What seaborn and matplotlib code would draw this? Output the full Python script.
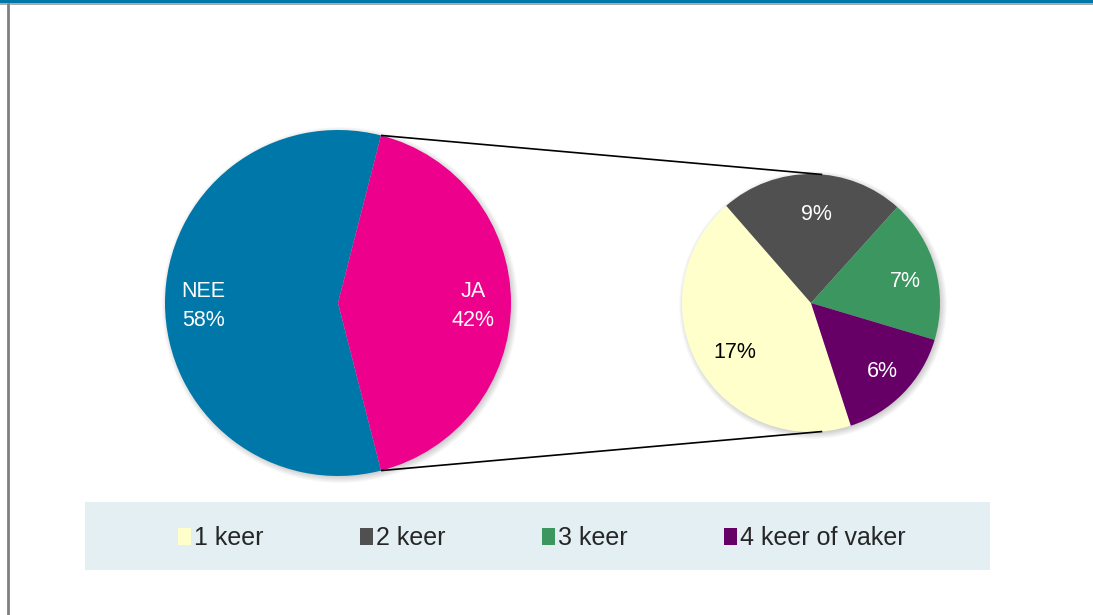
import matplotlib
matplotlib.use("Agg")
import matplotlib.pyplot as plt
import seaborn as sns
import numpy as np
from matplotlib.patches import Rectangle, Circle, Patch

# ---------------- data ----------------
main_labels = ["NEE", "JA"]
main_values = [58, 42]
sub_labels = ["1 keer", "2 keer", "3 keer", "4 keer of vaker"]
sub_values = [17, 9, 7, 6]

# ---------------- style ----------------
sns.set_theme(style="white")
plt.rcParams['font.family'] = ['Liberation Sans', 'DejaVu Sans']

main_colors = sns.color_palette(["#0077A9", "#EC008C"])
sub_colors = sns.color_palette(["#FFFFCC", "#505050", "#3C9660", "#660066"])
sub_text_colors = ["black", "white", "white", "white"]

W, H = 1093, 615
fig = plt.figure(figsize=(W / 100, H / 100), dpi=100)
fig.patch.set_facecolor("white")
ax = fig.add_axes([0, 0, 1, 1])


def py(y):
    return H - y


main_c = (338, py(303))
main_r = 173
sub_c = (811, py(303))
sub_r = 129

# soft shadows (halo, slightly offset to lower right)
for c, r in [(main_c, main_r), (sub_c, sub_r)]:
    for i in range(10):
        ax.add_patch(Circle((c[0] + 2, c[1] - 2), r + 5 - i * 0.9,
                            color="black", alpha=0.025, lw=0, zorder=1))

# main pie: JA centred on the right side
ja_frac = main_values[1] / sum(main_values)
wedges_m, _ = ax.pie(main_values, colors=main_colors, startangle=180 * ja_frac,
                     center=main_c, radius=main_r, labeldistance=None,
                     wedgeprops=dict(linewidth=0, zorder=2), frame=True)
for w, lab, v in zip(wedges_m, main_labels, main_values):
    mid = np.deg2rad((w.theta1 + w.theta2) / 2)
    x = main_c[0] + 0.78 * main_r * np.cos(mid)
    y = main_c[1] + 0.78 * main_r * np.sin(mid) - 3
    ax.text(x, y, f"{lab}\n{v}%", ha="center", va="center", color="white",
            fontsize=15.5, linespacing=1.5, zorder=5)

# secondary pie
wedges_s, _ = ax.pie(sub_values, colors=sub_colors, startangle=-72,
                     counterclock=False, center=sub_c, radius=sub_r,
                     labeldistance=None, wedgeprops=dict(linewidth=0, zorder=2),
                     frame=True)
for w, v, tc in zip(wedges_s, sub_values, sub_text_colors):
    mid = np.deg2rad((w.theta1 + w.theta2) / 2)
    x = sub_c[0] + 0.72 * sub_r * np.cos(mid) + 5
    y = sub_c[1] + 0.72 * sub_r * np.sin(mid) - 4
    ax.text(x, y, f"{v}%", ha="center", va="center", color=tc,
            fontsize=15.5, zorder=5)

# connector lines from JA wedge edges to secondary pie
ja = wedges_m[1]
for a_main, a_sub in [(ja.theta2, 85), (ja.theta1, -85)]:
    am, asb = np.deg2rad(a_main), np.deg2rad(a_sub)
    ax.plot([main_c[0] + main_r * np.cos(am), sub_c[0] + sub_r * np.cos(asb)],
            [main_c[1] + main_r * np.sin(am), sub_c[1] + sub_r * np.sin(asb)],
            color="black", lw=1.2, zorder=3, solid_capstyle="butt")

# legend background
ax.add_patch(Rectangle((85, py(570)), 905, 68, facecolor="#E4EFF4",
                       edgecolor="none", zorder=0))
handles = [Patch(facecolor=c, edgecolor="none") for c in sub_colors]
fig.legend(handles, sub_labels, loc="center", bbox_to_anchor=(542 / W, 1 - 538 / H),
           ncol=4, frameon=False, fontsize=18, handlelength=0.5,
           handleheight=0.7, handletextpad=0.15, columnspacing=3.85)

# frame decorations: top bar and left border
ax.add_patch(Rectangle((0, py(3)), W, 3, facecolor="#0077A9", edgecolor="none", zorder=6))
ax.plot([0, W], [py(3.8), py(3.8)], color="#9A9A9A", lw=1.2, zorder=6)
ax.plot([7.5, 7.5], [py(3.5), 0], color="#808080", lw=2, zorder=6)

ax.set_xlim(0, W)
ax.set_ylim(0, H)
ax.set_aspect("equal")
ax.axis("off")

fig.savefig("out.png", dpi=100)
